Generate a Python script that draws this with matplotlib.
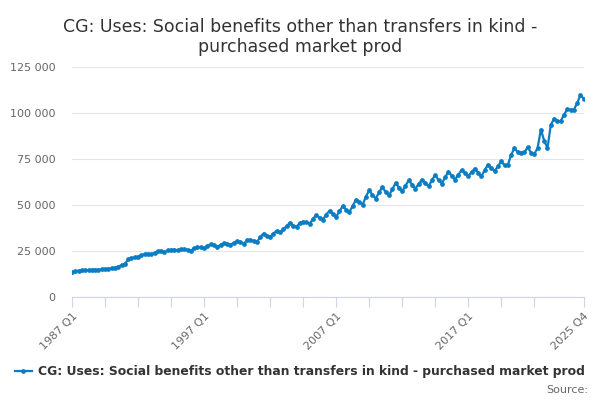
import matplotlib
matplotlib.use("Agg")
import matplotlib.pyplot as plt

# quarterly values, 1987 Q1 .. 2025 Q4
years = list(range(1987, 2026))
quarters = ["%d Q%d" % (y, q) for y in years for q in range(1, 5)]

values = [
    13500, 14000, 14300, 14500, 14600, 14500, 14800, 14900,   # 1987-1988
    14700, 15000, 15200, 15400, 15600, 15900, 16500, 17300,   # 1989-1990
    17900, 20400, 21200, 21500, 21900, 22600, 23300, 23500,   # 1991-1992
    23200, 24000, 24900, 25000, 24300, 25300, 25600, 25700,   # 1993-1994
    25300, 25900, 26000, 25700, 25100, 26600, 27200, 27000,   # 1995-1996
    26600, 27800, 28600, 28200, 27200, 28400, 29300, 29000,   # 1997-1998
    28400, 29500, 30300, 29800, 29000, 30800, 31200, 30500,   # 1999-2000
    29800, 32600, 34500, 33400, 32700, 34500, 36000, 35200,   # 2001-2002
    36800, 38500, 40400, 38800, 38200, 40200, 41000, 40500,   # 2003-2004
    39900, 42500, 44600, 43000, 42100, 44800, 46900, 45000,   # 2005-2006
    43600, 46500, 49500, 47500, 46200, 49500, 52800, 51500,   # 2007-2008
    50100, 54500, 58000, 55500, 53500, 57000, 59700, 57000,   # 2009-2010
    55200, 58500, 62000, 59500, 57400, 60500, 63400, 61000,   # 2011-2012
    58900, 61500, 63800, 62000, 60100, 63500, 66300, 63500,   # 2013-2014
    61600, 65000, 68100, 66000, 63800, 66500, 69000, 67500,   # 2015-2016
    65600, 68000, 69800, 67500, 65600, 69000, 72000, 70000,   # 2017-2018
    68500, 71000, 73800, 71500, 71800, 77300, 80900, 78600,   # 2019-2020
    78500, 78600, 81400, 78500, 77700, 80900, 91000, 85000,   # 2021-2022
    80900, 93400, 97000, 95500, 95500, 99100, 102000, 101800,  # 2023-2024
    101800, 105400, 109800, 107700,                           # 2025
]

series_name = "CG: Uses: Social benefits other than transfers in kind - purchased market prod"
title = "CG: Uses: Social benefits other than transfers in kind -\npurchased market prod"
label_quarters = ["1987 Q1", "1997 Q1", "2007 Q1", "2017 Q1", "2025 Q4"]
y_ticks = [0, 25000, 50000, 75000, 100000, 125000]

blue = "#0b7dc3"

fig = plt.figure(figsize=(6, 4), dpi=100)
ax = fig.add_axes([0.12, 0.2575, 0.853, 0.575])

x = list(range(len(quarters)))
line, = ax.plot(x, values, color=blue, lw=1.6, marker="o", markersize=2.4,
                label=series_name)

ax.set_xlim(0, len(quarters) - 1)
ax.set_ylim(0, 125000)
ax.set_yticks(y_ticks)
ax.set_yticklabels([("%d" % v) if v < 1000 else "{:,}".format(v).replace(",", " ")
                    for v in y_ticks], fontsize=8, color="#666666")
ax.tick_params(axis="y", length=0, pad=12)
ax.grid(axis="y", color="#e6e6e6", lw=0.8)
ax.set_axisbelow(True)

# x ticks every 10 quarters + last one, labels on a few
major = list(range(0, 150, 10)) + [len(quarters) - 1]
ax.set_xticks(major)
ax.set_xticklabels([quarters[i] if quarters[i] in label_quarters else "" for i in major],
                   rotation=45, ha="right", rotation_mode="anchor",
                   fontsize=8, color="#666666")
ax.tick_params(axis="x", length=7, color="#ccd6eb", pad=3)

for s in ["top", "right", "left"]:
    ax.spines[s].set_visible(False)
ax.spines["bottom"].set_color("#ccd6eb")

fig.text(0.5, 0.955, title, ha="center", va="top", fontsize=12.5, color="#333333",
         linespacing=1.15)

leg = fig.legend(handles=[line], loc="center", bbox_to_anchor=(0.5, 0.07),
                 frameon=False, fontsize=8.9, handlelength=1.3, handletextpad=0.5)
for t in leg.get_texts():
    t.set_fontweight("bold")
    t.set_color("#333333")

fig.text(0.98, 0.025, "Source:", ha="right", va="center", fontsize=8, color="#666666")

fig.savefig("out.png", dpi=100)
